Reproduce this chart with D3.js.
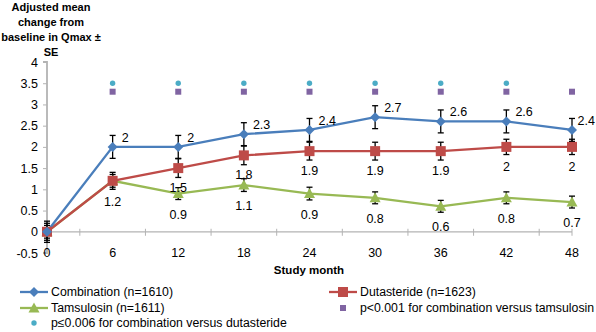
<!DOCTYPE html>
<html lang="en">
<head>
  <meta charset="utf-8" />
  <style>
    body { margin: 0; background: #fff; }
    text { font-family: "Liberation Sans", Arial, sans-serif; fill: #000; }
    .axis path, .axis line { stroke: #b3b3b3; }
  </style>
</head>
<body>
<svg width="596" height="332"></svg>
<script src="https://d3js.org/d3.v7.min.js"></script>
<script>
var months = [0, 6, 12, 18, 24, 30, 36, 42, 48],
    combination = [0, 2, 2, 2.3, 2.4, 2.7, 2.6, 2.6, 2.4],
    combinationSE = [0.25, 0.27, 0.27, 0.27, 0.27, 0.27, 0.27, 0.27, 0.27],
    dutasteride = [0, 1.2, 1.5, 1.8, 1.9, 1.9, 1.9, 2, 2],
    dutasterideSE = [0.2, 0.2, 0.22, 0.22, 0.21, 0.21, 0.21, 0.18, 0.18],
    tamsulosin = [0, 1.2, 0.9, 1.1, 0.9, 0.8, 0.6, 0.8, 0.7],
    tamsulosinSE = [0.15, 0.15, 0.14, 0.15, 0.15, 0.14, 0.14, 0.14, 0.14],
    // significance markers (months where p-value holds)
    pDutMonths = [6, 12, 18, 24, 30, 36, 42],
    pDutLevel = 3.5,
    pTamMonths = [6, 12, 18, 24, 30, 36, 42, 48],
    pTamLevel = 3.3,
    yTicks = [-0.5, 0, 0.5, 1, 1.5, 2, 2.5, 3, 3.5, 4];

var blue = "#4a7ebb", red = "#be4b48", green = "#98b954",
    cyan = "#4bacc6", purple = "#8064a2";

var width = 596;
var svg = d3.select("svg");

var x = d3.scaleLinear().domain([0, 48]).range([47, 572]),
    y = d3.scaleLinear().domain([-0.5, 4]).range([253, 62]);

// y axis
var yAxis = svg.append("g")
    .attr("class", "axis")
    .attr("transform", "translate(" + x(0) + ",0)")
    .call(d3.axisLeft(y).tickValues(yTicks).tickSize(4).tickPadding(5)
      .tickFormat(function(d) { return d; }));
yAxis.select(".domain").attr("stroke-width", 1.8).attr("d", "M-4," + y(4) + "H0V" + y(-0.5) + "H-4");
yAxis.selectAll("text").style("font-size", "12.5px");

// x axis line at zero, ticks between categories
var xAxis = svg.append("g").attr("class", "axis");
xAxis.append("line")
    .attr("x1", x(0)).attr("x2", x(48))
    .attr("y1", y(0)).attr("y2", y(0))
    .attr("stroke-width", 1.2);
xAxis.selectAll(".tick")
  .data(d3.range(3, 49, 6).concat([48]))
  .enter().append("line")
    .attr("x1", function(d) { return x(d); }).attr("x2", function(d) { return x(d); })
    .attr("y1", y(0) - 3).attr("y2", y(0) + 4);
xAxis.selectAll(".lbl")
  .data(months)
  .enter().append("text")
    .attr("x", function(d) { return x(d); })
    .attr("y", y(-0.5) + 4)
    .attr("text-anchor", "middle")
    .style("font-size", "12.5px")
    .text(function(d) { return d; });

svg.append("text")
    .attr("x", 309).attr("y", 274)
    .attr("text-anchor", "middle")
    .style("font-size", "11.5px").style("font-weight", "bold")
    .text("Study month");

// y axis title
var title = ["Adjusted mean", "change from", "baseline in Qmax \u00b1", "SE"];
svg.append("text")
    .attr("text-anchor", "middle")
    .style("font-size", "11px").style("font-weight", "bold")
  .selectAll("tspan")
  .data(title)
  .enter().append("tspan")
    .attr("x", 51)
    .attr("y", function(d, i) { return 11 + i * 15; })
    .text(function(d) { return d; });

// significance markers
svg.selectAll(".pdut")
  .data(pDutMonths)
  .enter().append("circle")
    .attr("cx", function(d) { return x(d); })
    .attr("cy", y(pDutLevel))
    .attr("r", 2.7)
    .attr("fill", cyan);
svg.selectAll(".ptam")
  .data(pTamMonths)
  .enter().append("rect")
    .attr("x", function(d) { return x(d) - 3; })
    .attr("y", y(pTamLevel) - 3)
    .attr("width", 6).attr("height", 6)
    .attr("fill", purple);

var line = d3.line()
    .x(function(d, i) { return x(months[i]); })
    .y(function(d) { return y(d); });

var series = [
  { values: tamsulosin, se: tamsulosinSE, color: green, marker: "triangle" },
  { values: dutasteride, se: dutasterideSE, color: red, marker: "square" },
  { values: combination, se: combinationSE, color: blue, marker: "diamond" }
];

function drawMarker(g, type, color) {
  if (type === "diamond") {
    g.append("path").attr("d", "M0,-5L5,0L0,5L-5,0Z").attr("fill", color);
  } else if (type === "square") {
    g.append("rect").attr("x", -5).attr("y", -5).attr("width", 10).attr("height", 10)
      .attr("fill", color);
  } else {
    g.append("path").attr("d", "M0,-5.5L5.5,4.5L-5.5,4.5Z").attr("fill", color);
  }
}

series.forEach(function(s) {
  svg.append("path")
      .datum(s.values)
      .attr("fill", "none")
      .attr("stroke", s.color)
      .attr("stroke-width", 2.3)
      .attr("d", line);
});

// error bars
series.forEach(function(s) {
  var eb = svg.append("g").attr("stroke", "#000").attr("stroke-width", 1.3);
  s.values.forEach(function(v, i) {
    var cx = x(months[i]), top = y(v + s.se[i]), bot = y(v - s.se[i]);
    eb.append("line").attr("x1", cx).attr("x2", cx).attr("y1", top).attr("y2", bot);
    eb.append("line").attr("x1", cx - 3).attr("x2", cx + 3).attr("y1", top).attr("y2", top);
    eb.append("line").attr("x1", cx - 3).attr("x2", cx + 3).attr("y1", bot).attr("y2", bot);
  });
});

// markers
series.forEach(function(s) {
  s.values.forEach(function(v, i) {
    var g = svg.append("g").attr("transform", "translate(" + x(months[i]) + "," + y(v) + ")");
    drawMarker(g, s.marker, s.color);
  });
});

// data labels; combination labels sit right of the point, kept inside the page
svg.selectAll(".lc")
  .data(combination.slice(1))
  .enter().append("text")
    .attr("y", function(d) { return y(d) - 5; })
    .style("font-size", "12.5px")
    .text(function(d) { return d; })
    .attr("x", function(d, i) {
      return Math.min(x(months[i + 1]) + 9, width - 1 - this.getComputedTextLength());
    });
svg.selectAll(".ld")
  .data(dutasteride.slice(2))
  .enter().append("text")
    .attr("x", function(d, i) { return x(months[i + 2]); })
    .attr("y", function(d) { return y(d) + 24; })
    .attr("text-anchor", "middle")
    .style("font-size", "12.5px")
    .text(function(d) { return d; });
svg.selectAll(".lt")
  .data(tamsulosin.slice(1))
  .enter().append("text")
    .attr("x", function(d, i) { return x(months[i + 1]); })
    .attr("y", function(d) { return y(d) + 25; })
    .attr("text-anchor", "middle")
    .style("font-size", "12.5px")
    .text(function(d) { return d; });

// legend
var legend = [
  { label: "Combination (n=1610)", color: blue, marker: "diamond", lx: 20, ly: 292 },
  { label: "Dutasteride (n=1623)", color: red, marker: "square", lx: 329, ly: 292 },
  { label: "Tamsulosin (n=1611)", color: green, marker: "triangle", lx: 20, ly: 308 },
  { label: "p<0.001 for combination versus tamsulosin", color: purple, marker: "psquare", lx: 329, ly: 308 },
  { label: "p\u22640.006 for combination versus dutasteride", color: cyan, marker: "pcircle", lx: 20, ly: 323 }
];
legend.forEach(function(l) {
  var g = svg.append("g").attr("transform", "translate(" + l.lx + "," + l.ly + ")");
  if (l.marker === "psquare") {
    g.append("rect").attr("x", 11).attr("y", -3).attr("width", 6).attr("height", 6).attr("fill", l.color);
  } else if (l.marker === "pcircle") {
    g.append("circle").attr("cx", 14).attr("cy", 0).attr("r", 2.7).attr("fill", l.color);
  } else {
    g.append("line").attr("x1", 0).attr("x2", 28).attr("stroke", l.color).attr("stroke-width", 2.3);
    var m = g.append("g").attr("transform", "translate(14,0)");
    drawMarker(m, l.marker, l.color);
  }
  g.append("text").attr("x", 31).attr("y", 4)
    .style("font-size", "12.3px")
    .text(l.label);
});
</script>
</body>
</html>
